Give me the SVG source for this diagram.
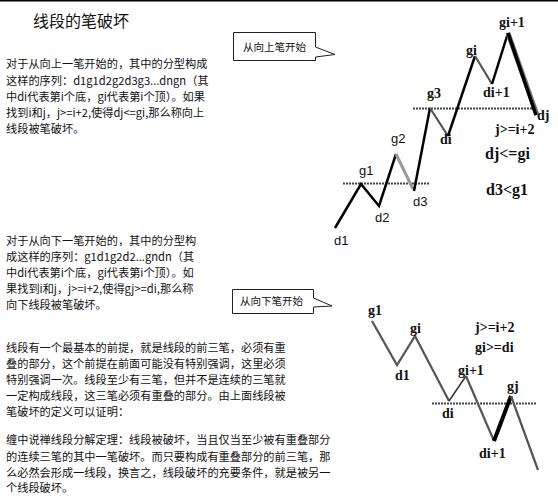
<svg xmlns="http://www.w3.org/2000/svg" width="558" height="503" viewBox="0 0 558 503">
<style>
.bg{fill:#fff}
.p{font-family:"Noto Sans CJK SC","Noto Sans CJK TC",sans-serif;font-size:11.2px;fill:#111}
.t{font-family:"Noto Sans CJK SC",sans-serif;font-size:16px;fill:#111}
.bx{fill:#fff;stroke:#222;stroke-width:1}
.bt{font-family:"Noto Sans CJK SC",sans-serif;font-size:10.5px;fill:#111}
.ls{font-family:"Liberation Sans","DejaVu Sans",sans-serif;font-size:13px;fill:#111}
.lb{font-family:"Liberation Serif","DejaVu Serif",serif;font-weight:bold;font-size:14px;fill:#111}
.lbb{font-family:"Liberation Serif","DejaVu Serif",serif;font-weight:bold;font-size:16px;fill:#111}
.k{fill:none;stroke:#000;stroke-width:2.5;stroke-linejoin:miter;stroke-linecap:butt}
.g{fill:none;stroke:#555;stroke-width:2.2}
.lg{fill:none;stroke:#999;stroke-width:3}
.dot{fill:none;stroke:#444;stroke-width:2;stroke-dasharray:2 1}
</style>
<rect class="bg" x="0" y="0" width="558" height="503"/>
<line x1="0" y1="0.75" x2="558" y2="0.75" stroke="#000" stroke-width="1.5"/>

<text class="t" x="33" y="27">线段的笔破坏</text>

<g id="para1">
<text class="p" x="6" y="68">对于从向上一笔开始的，其中的分型构成</text>
<text class="p" x="6" y="85">这样的序列：d1g1d2g2d3g3...dngn（其</text>
<text class="p" x="6" y="101">中di代表第i个底，gi代表第i个顶）。如果</text>
<text class="p" x="6" y="117">找到i和j，j&gt;=i+2,使得dj&lt;=gi,那么称向上</text>
<text class="p" x="6" y="133">线段被笔破坏。</text>
</g>

<g id="para2">
<text class="p" x="6" y="245">对于从向下一笔开始的，其中的分型构</text>
<text class="p" x="6" y="261">成这样的序列：g1d1g2d2...gndn（其</text>
<text class="p" x="6" y="277">中di代表第i个底，gi代表第i个顶）。如</text>
<text class="p" x="6" y="293">果找到i和j，j&gt;=i+2,使得gj&gt;=di,那么称</text>
<text class="p" x="6" y="309">向下线段被笔破坏。</text>
</g>

<g id="para3">
<text class="p" x="6" y="352">线段有一个最基本的前提，就是线段的前三笔，必须有重</text>
<text class="p" x="6" y="368">叠的部分，这个前提在前面可能没有特别强调，这里必须</text>
<text class="p" x="6" y="384">特别强调一次。线段至少有三笔，但并不是连续的三笔就</text>
<text class="p" x="6" y="400">一定构成线段，这三笔必须有重叠的部分。由上面线段被</text>
<text class="p" x="6" y="416">笔破坏的定义可以证明：</text>
</g>

<g id="para4">
<text class="p" x="6" y="444">缠中说禅线段分解定理：线段被破坏，当且仅当至少被有重叠部分</text>
<text class="p" x="6" y="461">的连续三笔的其中一笔破坏。而只要构成有重叠部分的前三笔，那</text>
<text class="p" x="6" y="477">么必然会形成一线段，换言之，线段破坏的充要条件，就是被另一</text>
<text class="p" x="6" y="492">个线段破坏。</text>
</g>

<g id="callout-up">
<path class="bx" d="M233.5,32.5 H315.5 V47 L335,54.5 L315.5,57 V60.5 H233.5 Z"/>
<text class="bt" x="243" y="51">从向上笔开始</text>
</g>

<g id="callout-down">
<path class="bx" d="M232.5,289.5 H313.5 V298 L332,306 L313.5,307 V313.5 H232.5 Z"/>
<text class="bt" x="240" y="305">从向下笔开始</text>
</g>

<g id="connectors">
<!-- upper chart -->
<line class="dot" x1="343" y1="183.5" x2="430" y2="183.5"/>
<line class="dot" x1="413" y1="108.5" x2="537" y2="108.5"/>
<polyline class="k" points="335,228 361,184 379,206 396,154"/>
<line class="lg" x1="396" y1="154" x2="413" y2="189"/>
<polyline class="k" points="414,191 430,108"/>
<line class="g" x1="430" y1="108" x2="448" y2="136" stroke-width="2"/>
<line class="k" x1="448" y1="136" x2="475" y2="56"/>
<line class="g" x1="475" y1="56" x2="492" y2="84" stroke-width="2"/>
<line class="k" x1="492" y1="84" x2="508" y2="33"/>
<line x1="508" y1="33" x2="537" y2="115" stroke="#777" stroke-width="5"/>
<line x1="508" y1="33" x2="536" y2="115" stroke="#000" stroke-width="3.5"/>
<!-- lower chart -->
<line class="dot" x1="432" y1="403.5" x2="537" y2="403.5"/>
<polyline class="g" points="372,321 397,365 415,336 449,401"/>
<line x1="449" y1="401" x2="466" y2="376" stroke="#333" stroke-width="1.5"/>
<line class="g" x1="466" y1="376" x2="494" y2="441" stroke-width="2"/>
<line x1="494" y1="441" x2="511" y2="396" stroke="#000" stroke-width="4"/>
<line class="g" x1="511" y1="396" x2="538" y2="470" stroke-width="2"/>
</g>

<g id="labels-up">
<text class="ls" x="334" y="245">d1</text>
<text class="ls" x="359" y="175">g1</text>
<text class="ls" x="375" y="222">d2</text>
<text class="ls" x="391" y="143">g2</text>
<text class="ls" x="413" y="206">d3</text>
<text class="lb" x="427" y="98">g3</text>
<text class="lb" x="440" y="144">di</text>
<text class="lb" x="466" y="55">gi</text>
<text class="lb" x="483" y="97">di+1</text>
<text class="lb" x="499" y="27">gi+1</text>
<text class="lb" x="537" y="120">dj</text>
<text class="lb" x="495" y="134">j&gt;=i+2</text>
<text class="lbb" x="485" y="159">dj&lt;=gi</text>
<text class="lbb" x="486" y="195">d3&lt;g1</text>
</g>

<g id="labels-down">
<text class="lb" x="368" y="315">g1</text>
<text class="lb" x="395" y="380">d1</text>
<text class="lb" x="410" y="333">gi</text>
<text class="lb" x="475" y="332">j&gt;=i+2</text>
<text class="lb" x="475" y="352">gi&gt;=di</text>
<text class="lb" x="458" y="375">gi+1</text>
<text class="lb" x="507" y="391">gj</text>
<text class="lb" x="442" y="418">di</text>
<text class="lb" x="479" y="458">di+1</text>
</g>
</svg>
